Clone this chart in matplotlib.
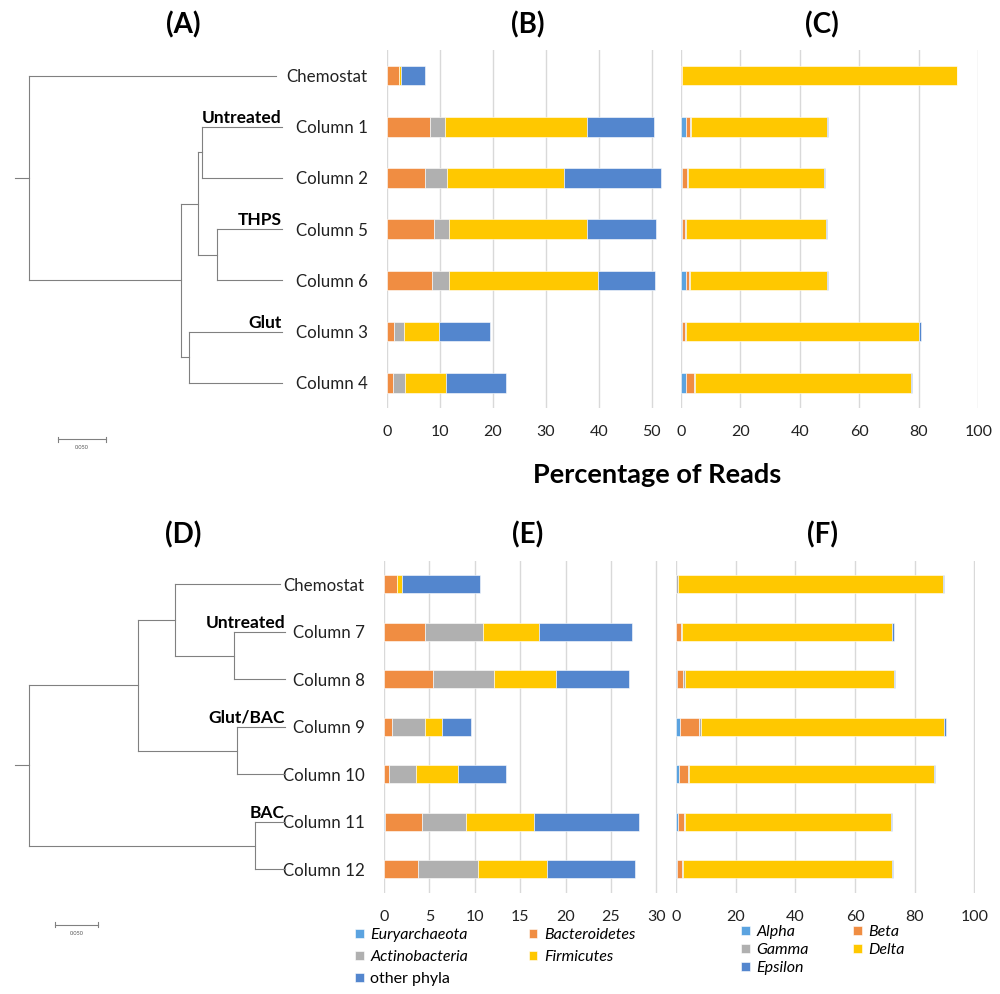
import numpy as np
import matplotlib
matplotlib.use("Agg")
import matplotlib.pyplot as plt

plt.rcParams['font.family'] = ['Lato', 'DejaVu Sans']

# ---- samples ----
top_samples = ["Chemostat", "Column 1", "Column 2", "Column 5", "Column 6", "Column 3", "Column 4"]
bottom_samples = ["Chemostat", "Column 7", "Column 8", "Column 9", "Column 10", "Column 11", "Column 12"]

phyla = ["Euryarchaeota", "Bacteroidetes", "Actinobacteria", "Firmicutes", "other phyla"]
classes = ["Alpha", "Beta", "Gamma", "Delta", "Epsilon"]

# ---- (B) phyla, top set (% of reads) ----
eury_b = [0.0, 0.0, 0.0, 0.0, 0.0, 0.0, 0.0]
bact_b = [2.3, 8.1, 7.1, 8.8, 8.5, 1.3, 1.0]
actino_b = [0.0, 2.9, 4.2, 2.9, 3.2, 1.9, 2.4]
firm_b = [0.25, 26.8, 22.2, 26.0, 28.2, 6.5, 7.7]
other_b = [4.6, 12.7, 18.3, 13.2, 10.8, 9.8, 11.3]

# ---- (C) proteobacteria classes, top set ----
alpha_c = [0.0, 1.7, 0.3, 0.2, 1.6, 0.2, 1.7]
beta_c = [0.2, 1.3, 1.8, 1.0, 1.0, 1.1, 2.7]
gamma_c = [0.1, 0.3, 0.3, 0.4, 0.3, 0.3, 0.4]
delta_c = [92.4, 45.9, 45.7, 47.1, 46.3, 78.4, 72.6]
eps_c = [0.3, 0.3, 0.4, 0.4, 0.3, 0.6, 0.3]

# ---- (E) phyla, bottom set ----
eury_e = [0.0, 0.0, 0.0, 0.0, 0.0, 0.15, 0.0]
bact_e = [1.4, 4.55, 5.4, 0.85, 0.6, 4.0, 3.7]
actino_e = [0.0, 6.3, 6.75, 3.7, 2.9, 4.85, 6.6]
firm_e = [0.6, 6.2, 6.8, 1.8, 4.7, 7.5, 7.6]
other_e = [8.6, 10.3, 8.0, 3.2, 5.2, 11.6, 9.8]

# ---- (F) proteobacteria classes, bottom set ----
alpha_f = [0.0, 0.1, 0.45, 1.45, 1.0, 0.7, 0.2]
beta_f = [0.1, 1.5, 2.0, 6.25, 2.9, 1.9, 1.7]
gamma_f = [0.5, 0.3, 0.4, 0.55, 0.55, 0.55, 0.3]
delta_f = [89.0, 70.4, 70.1, 81.5, 82.1, 68.9, 70.1]
eps_f = [0.3, 0.7, 0.4, 0.8, 0.2, 0.2, 0.45]

# ---- trees: internal node = (depth, [children]), leaf = (name, depth) ----
tree_a = (0.0, [("Chemostat", 0.259),
                 (0.159, [(0.1765, [(0.1807, [("Column 1", 0.2646), ("Column 2", 0.2646)]),
                                    (0.1964, [("Column 5", 0.2646), ("Column 6", 0.2646)])]),
                          (0.1677, [("Column 3", 0.2646), ("Column 4", 0.2646)])])])
groups_a = [("Untreated", "Column 1"), ("THPS", "Column 5"), ("Glut", "Column 3")]

tree_d = (0.0, [(0.1262, [(0.1686, [("Chemostat", 0.2898),
                                    (0.2371, [("Column 7", 0.2956), ("Column 8", 0.2956)])]),
                          (0.2405, [("Column 9", 0.2956), ("Column 10", 0.2956)])]),
                (0.2610, [("Column 11", 0.2956), ("Column 12", 0.2956)])])
groups_d = [("Untreated", "Column 7"), ("Glut/BAC", "Column 9"), ("BAC", "Column 11")]

colors5 = ['#5BA3E0', '#F08D42', '#B0B0B0', '#FFC800', '#5386CE']
grid_col = '#D9D9D9'
tree_col = '#808080'

W, H = 1000, 994
fig = plt.figure(figsize=(W / 100, H / 100), dpi=100)


def px_axes(left, top, right, bottom):
    return fig.add_axes([left / W, 1 - bottom / H, (right - left) / W, (bottom - top) / H])


def stacked(ax, samples, series, xmax, ticks, show_labels):
    y = np.arange(len(samples))
    left = np.zeros(len(samples))
    bars = []
    for vals, c in zip(series, colors5):
        vals = np.array(vals)
        b = ax.barh(y, vals, left=left, height=0.38, color=c, edgecolor='white', linewidth=0.4)
        bars.append(b)
        left += vals
    ax.set_xlim(0, xmax)
    ax.set_ylim(len(samples) - 0.5, -0.5)
    ax.set_xticks(ticks)
    ax.tick_params(axis='both', length=0, labelsize=11.5, colors='#222222')
    ax.tick_params(axis='x', pad=12)
    ax.grid(axis='x', color=grid_col, linewidth=1)
    ax.set_axisbelow(True)
    for s in ax.spines.values():
        s.set_visible(False)
    if show_labels:
        ax.set_yticks(y)
        ax.set_yticklabels(samples, fontsize=12.2)
        ax.tick_params(axis='y', pad=14)
    else:
        ax.set_yticks([])
    return bars


def draw_clade(ax, node, parent_x, order):
    if isinstance(node[0], str):
        yy = order.index(node[0])
        ax.plot([parent_x, node[1]], [yy, yy], color=tree_col, lw=0.8)
        return yy
    x, kids = node
    ys = [draw_clade(ax, k, x, order) for k in kids]
    ax.plot([x, x], [min(ys), max(ys)], color=tree_col, lw=0.8)
    yy = float(np.mean(ys))
    ax.plot([parent_x, x], [yy, yy], color=tree_col, lw=0.8)
    return yy


def dendro(ax, tree, order, groups, stub, xlim, ylim, bar_y):
    draw_clade(ax, tree, -stub, order)
    leaf_x = {}

    def collect(n):
        if isinstance(n[0], str):
            leaf_x[n[0]] = n[1]
        else:
            for k in n[1]:
                collect(k)
    collect(tree)
    for lab, leaf in groups:
        ax.text(leaf_x[leaf], order.index(leaf) - 0.02, lab, ha='right', va='bottom',
                fontsize=12.5, fontweight='bold')
    # scale bar 0.050
    ax.plot([0.030, 0.080], [bar_y, bar_y], color=tree_col, lw=0.8)
    ax.plot([0.030, 0.030], [bar_y - 0.05, bar_y + 0.05], color=tree_col, lw=0.8)
    ax.plot([0.080, 0.080], [bar_y - 0.05, bar_y + 0.05], color=tree_col, lw=0.8)
    ax.text(0.055, bar_y + 0.12, "0.050", fontsize=4, ha='center', va='top', color='#555555')
    ax.set_xlim(*xlim)
    ax.set_ylim(*ylim)
    ax.axis('off')


# ---- top row ----
ax_b = px_axes(387.3, 50, 676, 408.4)
bars_b = stacked(ax_b, top_samples, [eury_b, bact_b, actino_b, firm_b, other_b], 54.6,
                 [0, 10, 20, 30, 40, 50], True)
ax_c = px_axes(681, 50, 978.3, 408.4)
stacked(ax_c, top_samples, [alpha_c, beta_c, gamma_c, delta_c, eps_c], 100,
        [0, 20, 40, 60, 80, 100], False)

ax_a = px_axes(0, 50, 300, 460)
dendro(ax_a, tree_a, top_samples, groups_a, 0.015,
       (-29.3 / 954, 270.7 / 954), (-0.5 + 410 / 51.2, -0.5), 7.1)

# ---- bottom row ----
ax_e = px_axes(384, 560.5, 670, 893)
bars_e = stacked(ax_e, bottom_samples, [eury_e, bact_e, actino_e, firm_e, other_e], 31.5,
                 [0, 5, 10, 15, 20, 25, 30], True)
ax_f = px_axes(676, 560.5, 975.3, 893)
bars_f = stacked(ax_f, bottom_samples, [alpha_f, beta_f, gamma_f, delta_f, eps_f], 100.3,
                 [0, 20, 40, 60, 80, 100], False)

ax_d = px_axes(0, 560.5, 300, 945)
dendro(ax_d, tree_d, bottom_samples, groups_d, 0.0162,
       (-29 / 866, 271 / 866), (-0.5 + 384.5 / 47.5, -0.5), 7.17)

# ---- panel letters and shared axis title ----
for lab, x, y in [("(A)", 183, 25), ("(B)", 528, 25), ("(C)", 822, 25),
                  ("(D)", 183, 535), ("(E)", 528, 535), ("(F)", 822, 535)]:
    fig.text(x / W, 1 - y / H, lab, ha='center', va='center', fontsize=20, fontweight='bold')
fig.text(657 / W, 1 - 475 / H, "Percentage of Reads", ha='center', va='center',
         fontsize=19.5, fontweight='bold')

# ---- legends ----
order = [0, 2, 4, 1, 3]
leg1 = fig.legend([bars_e[i] for i in order], [phyla[i] for i in order], ncol=2,
                  loc='upper left', bbox_to_anchor=(355 / W, 1 - 928 / H), frameon=False,
                  fontsize=11.5, handlelength=0.55, handleheight=0.55, handletextpad=0.4,
                  columnspacing=3.8, labelspacing=0.5, borderpad=0, borderaxespad=0)
for t in leg1.get_texts():
    if t.get_text() != "other phyla":
        t.set_style('italic')

leg2 = fig.legend([bars_f[i] for i in order], [classes[i] for i in order], ncol=2,
                  loc='upper left', bbox_to_anchor=(741 / W, 1 - 925 / H), frameon=False,
                  fontsize=11.5, handlelength=0.55, handleheight=0.55, handletextpad=0.4,
                  columnspacing=2.8, labelspacing=0.26, borderpad=0, borderaxespad=0)
for t in leg2.get_texts():
    t.set_style('italic')

fig.savefig("out.png", dpi=100)
